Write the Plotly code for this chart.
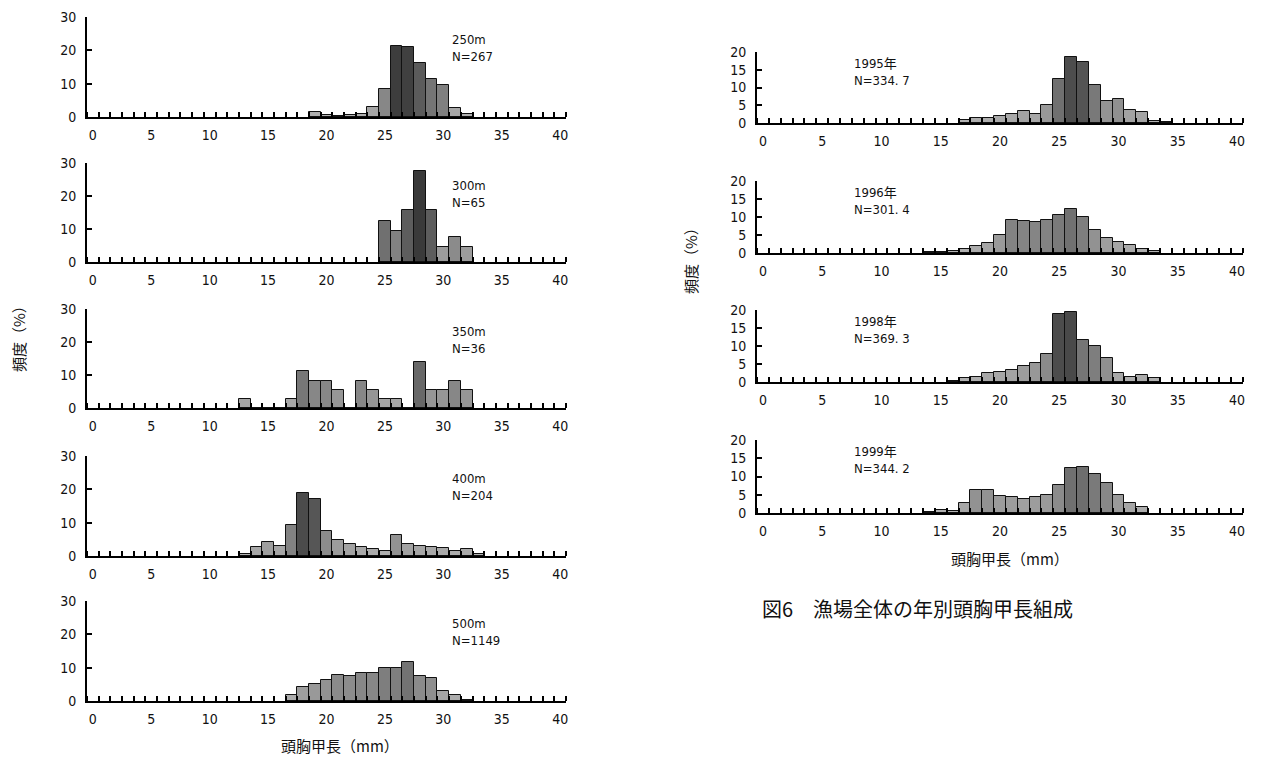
import plotly.graph_objects as go

W, H = 1283, 757

# ---------------- data (carapace length in mm, frequency in %) ----------------
len_250 = list(range(19, 33))
freq_250 = [1.4, 0.6, 0.3, 0.5, 1.0, 2.9, 8.4, 21.4, 21.0, 16.2, 11.5, 9.5, 2.6, 1.0]

len_300 = list(range(25, 33))
freq_300 = [12.5, 9.3, 15.8, 27.5, 15.8, 4.6, 7.7, 4.6]

len_350 = list(range(13, 33))
freq_350 = [2.8, 0, 0, 0, 2.8, 11.1, 8.3, 8.3, 5.6, 0, 8.3, 5.6, 2.8, 2.8, 0,
            13.9, 5.6, 5.6, 8.3, 5.6]

len_400 = list(range(13, 34))
freq_400 = [0.5, 2.7, 4.1, 3.0, 9.3, 19.0, 17.0, 7.5, 4.7, 3.6, 2.6, 2.1, 1.5,
            6.3, 3.6, 3.1, 2.7, 2.3, 1.6, 2.2, 0.5]

len_500 = list(range(17, 33))
freq_500 = [1.7, 4.2, 5.2, 6.4, 7.8, 7.5, 8.3, 8.3, 9.9, 9.8, 11.8, 7.6, 7.0,
            3.0, 1.8, 0.3]

len_1995 = list(range(17, 35))
freq_1995 = [0.9, 1.4, 1.4, 2.1, 2.5, 3.3, 2.5, 5.1, 12.5, 18.7, 17.3, 10.8,
             6.1, 6.7, 3.6, 3.0, 0.5, 0.3]

len_1996 = list(range(14, 34))
freq_1996 = [0.3, 0.3, 0.5, 1.0, 2.0, 2.8, 4.9, 9.1, 8.8, 8.7, 9.1, 10.6, 12.3,
             10.0, 6.4, 4.2, 3.0, 2.1, 1.2, 0.5]

len_1998 = list(range(16, 34))
freq_1998 = [0.3, 1.1, 1.5, 2.4, 2.8, 3.4, 4.5, 5.3, 7.7, 18.8, 19.4, 11.6,
             9.9, 6.8, 2.4, 1.3, 2.0, 1.1]

len_1999 = list(range(14, 33))
freq_1999 = [0.3, 0.9, 0.6, 2.8, 6.4, 6.4, 4.6, 4.4, 3.9, 4.5, 4.9, 7.6, 12.4,
             12.7, 10.6, 8.1, 4.9, 2.8, 1.6]

labels_left = ["250m", "300m", "350m", "400m", "500m"]
n_left = ["N=267", "N=65", "N=36", "N=204", "N=1149"]
labels_right = ["1995年", "1996年", "1998年", "1999年"]
n_right = ["N=334. 7", "N=301. 4", "N=369. 3", "N=344. 2"]

x_ticks = [0, 5, 10, 15, 20, 25, 30, 35, 40]
y_ticks_left = [0, 10, 20, 30]
y_ticks_right = [0, 5, 10, 15, 20]

x_title = "頭胸甲長（mm）"
y_title = "頻度（%）"
caption = "図6　漁場全体の年別頭胸甲長組成"

# ---------------- layout geometry (pixels) ----------------
left_x = (87, 566)
right_x = (757, 1243)
left_rows = [(17, 117), (163, 262), (309, 408), (456, 556), (601, 701)]
right_rows = [(52, 123), (181, 253), (310, 382), (440, 513)]

NUM_FONT = "DejaVu Sans Condensed, Liberation Sans Narrow, Liberation Sans, sans-serif"
JP_FONT = "Noto Sans CJK JP, sans-serif"

panels = [
    (len_250, freq_250, left_x, left_rows[0], 30, y_ticks_left, labels_left[0], n_left[0], 450),
    (len_300, freq_300, left_x, left_rows[1], 30, y_ticks_left, labels_left[1], n_left[1], 450),
    (len_350, freq_350, left_x, left_rows[2], 30, y_ticks_left, labels_left[2], n_left[2], 450),
    (len_400, freq_400, left_x, left_rows[3], 30, y_ticks_left, labels_left[3], n_left[3], 450),
    (len_500, freq_500, left_x, left_rows[4], 30, y_ticks_left, labels_left[4], n_left[4], 450),
    (len_1995, freq_1995, right_x, right_rows[0], 20, y_ticks_right, labels_right[0], n_right[0], 852),
    (len_1996, freq_1996, right_x, right_rows[1], 20, y_ticks_right, labels_right[1], n_right[1], 852),
    (len_1998, freq_1998, right_x, right_rows[2], 20, y_ticks_right, labels_right[2], n_right[2], 852),
    (len_1999, freq_1999, right_x, right_rows[3], 20, y_ticks_right, labels_right[3], n_right[3], 852),
]


def px_x(p):
    return p / W


def px_y(p):
    return 1 - p / H


fig = go.Figure()
layout = {}
annotations = []

for i, (xs, ys, xd, yd, ymax, yt, lab, nlab, lab_x) in enumerate(panels, start=1):
    sfx = "" if i == 1 else str(i)
    fig.add_trace(go.Bar(
        x=xs, y=ys, width=1.0,
        xaxis="x" + sfx, yaxis="y" + sfx,
        marker=dict(color=ys, colorscale=[[0, "#b6b6b6"], [1, "#3a3a3a"]],
                    cmin=0, cmax=22,
                    line=dict(color="#111111", width=1)),
        showlegend=False, hoverinfo="x+y",
    ))
    layout["xaxis" + sfx] = dict(
        domain=[px_x(xd[0]), px_x(xd[1])], anchor="y" + sfx,
        range=[-0.5, 40.5], tickmode="array", tickvals=x_ticks,
        ticks="", showline=True, linecolor="black", linewidth=2,
        showgrid=False, zeroline=False, ticklabelstandoff=4,
        automargin=False,
        tickfont=dict(family=NUM_FONT, size=14, color="#111111"),
        minor=dict(tickmode="linear", tick0=0.5, dtick=1, ticks="inside",
                   ticklen=5, tickwidth=1.5, tickcolor="black", showgrid=False),
        fixedrange=True,
    )
    layout["yaxis" + sfx] = dict(
        domain=[px_y(yd[1]), px_y(yd[0])], anchor="x" + sfx,
        range=[0, ymax], tickmode="array", tickvals=yt,
        ticks="inside", ticklen=5, tickwidth=1.5, tickcolor="black",
        showline=True, linecolor="black", linewidth=2,
        showgrid=False, zeroline=False, ticklabelstandoff=6,
        automargin=False,
        tickfont=dict(family=NUM_FONT, size=14, color="#111111"),
        fixedrange=True,
    )
    top = yd[0]
    off = 31 if ymax == 30 else 20
    annotations.append(dict(
        x=px_x(lab_x), y=px_y(top + off), xref="paper", yref="paper",
        xanchor="left", yanchor="middle", showarrow=False, align="left",
        text=lab + "<br>" + nlab,
        font=dict(family=NUM_FONT + ", " + JP_FONT, size=13, color="#111111"),
    ))

# axis titles and caption
annotations += [
    dict(x=px_x(340), y=px_y(745), xref="paper", yref="paper", showarrow=False,
         xanchor="center", yanchor="middle",
         text=x_title, font=dict(family=JP_FONT, size=15, color="#111111")),
    dict(x=px_x(1010), y=px_y(558), xref="paper", yref="paper", showarrow=False,
         xanchor="center", yanchor="middle",
         text=x_title, font=dict(family=JP_FONT, size=15, color="#111111")),
    dict(x=px_x(18), y=px_y(335), xref="paper", yref="paper", showarrow=False,
         xanchor="center", yanchor="middle",
         text=y_title, textangle=-90, font=dict(family=JP_FONT, size=15, color="#111111")),
    dict(x=px_x(690), y=px_y(257), xref="paper", yref="paper", showarrow=False,
         xanchor="center", yanchor="middle",
         text=y_title, textangle=-90, font=dict(family=JP_FONT, size=15, color="#111111")),
    dict(x=px_x(917), y=px_y(608), xref="paper", yref="paper", showarrow=False,
         xanchor="center", yanchor="middle",
         text=caption, font=dict(family=JP_FONT, size=20, color="#111111")),
]

fig.update_layout(
    template="none",
    width=W, height=H, margin=dict(l=0, r=0, t=0, b=0, pad=0),
    paper_bgcolor="white", plot_bgcolor="white",
    bargap=0, annotations=annotations, **layout,
)

fig.write_html(
    "out.html",
    config={"displayModeBar": False},
    post_script="document.body.style.margin='0px';document.body.style.overflow='hidden';",
)
